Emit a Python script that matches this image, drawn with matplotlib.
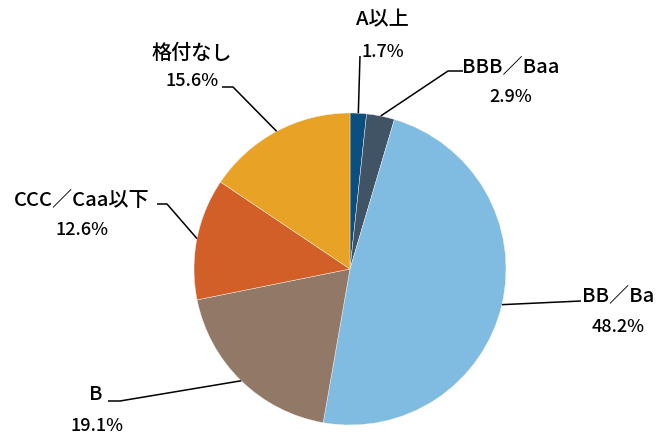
import numpy as np
import matplotlib
matplotlib.use("Agg")
import matplotlib.pyplot as plt

plt.rcParams['font.family'] = ['Noto Sans CJK JP', 'DejaVu Sans']

categories = ["A以上", "BBB／Baa", "BB／Ba", "B", "CCC／Caa以下", "格付なし"]
values = [1.7, 2.9, 48.2, 19.1, 12.6, 15.6]
colors = ["#0b4f80", "#415465", "#80bce2", "#927967", "#d35f28", "#e8a226"]

W, H = 662, 435
fig = plt.figure(figsize=(W / 100, H / 100), dpi=100)
ax = fig.add_axes([0, 0, 1, 1])

cx, cy_px, r = 350, 270, 156
cy = H - cy_px

wedges, _ = ax.pie(values, colors=colors, startangle=90, counterclock=False,
                   center=(cx, cy), radius=r, frame=True,
                   wedgeprops=dict(edgecolor='#f4f4f4', linewidth=0.3))
ax.set_xlim(0, W)
ax.set_ylim(0, H)
ax.set_aspect('equal')
ax.axis('off')

# layout: leader path (pixel coords, after the wedge point) and label centres
layout = [
    dict(path=[(360, 57)], name=(382, 20), pct=(383, 52)),
    dict(path=[(448, 72), (463, 72)], name=(511, 67), pct=(511, 97)),
    dict(path=[(581, 302)], name=(618, 296), pct=(618, 327)),
    dict(path=[(120, 402), (108, 402)], name=(96, 395), pct=(97, 426)),
    dict(path=[(167, 205), (157, 205)], name=(82, 200), pct=(82, 230)),
    dict(path=[(233, 88), (222, 88)], name=(192, 53), pct=(192, 81)),
]

for w, cat, v, L in zip(wedges, categories, values, layout):
    ang = np.deg2rad((w.theta1 + w.theta2) / 2)
    x0 = cx + r * np.cos(ang)
    y0 = cy + r * np.sin(ang)
    xs = [x0] + [p[0] for p in L["path"]]
    ys = [y0] + [H - p[1] for p in L["path"]]
    ax.plot(xs, ys, color='black', lw=1.1, solid_capstyle='butt')
    ax.text(L["name"][0], H - L["name"][1], cat, ha='center', va='center',
            fontsize=14.5, color='black', fontweight='medium')
    ax.text(L["pct"][0], H - L["pct"][1], f"{v:.1f}%", ha='center', va='center',
            fontsize=13, color='black', fontweight='medium')

fig.savefig("out.png", dpi=100)
